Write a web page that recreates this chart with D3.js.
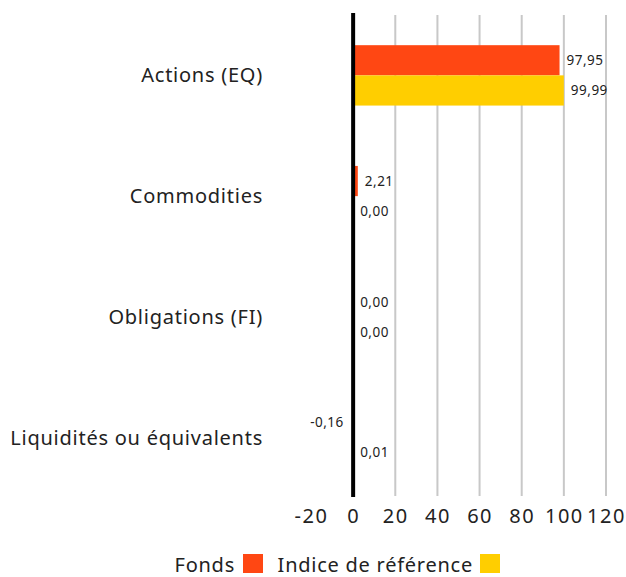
<!DOCTYPE html>
<html><head><meta charset="utf-8">
<script src="https://cdn.jsdelivr.net/npm/d3@7"></script>
<style>body{margin:0;background:#fff;font-family:"Noto Sans",sans-serif;}</style>
</head><body><svg id="c" width="626" height="577"></svg>
<script>
const categories = ["Actions (EQ)", "Commodities", "Obligations (FI)", "Liquidités ou équivalents"];
const seriesNames = ["Fonds", "Indice de référence"];
const fonds = [97.95, 2.21, 0.00, -0.16];
const indice = [99.99, 0.00, 0.00, 0.01];
const xTicks = [-20, 0, 20, 40, 60, 80, 100, 120];
const colors = ["#ff4713", "#ffce00"];

const svg = d3.select("#c");
const font = '"Noto Sans", sans-serif';
const x = d3.scaleLinear().domain([-20, 120]).range([311, 606]);
const y = d3.scaleBand().domain(categories).range([15, 498]).paddingInner(0.5).paddingOuter(0.25);
const sub = d3.scaleBand().domain(seriesNames).range([0, y.bandwidth()]);
const fmt = v => v.toFixed(2).replace(".", ",");

// grid
svg.append("g").selectAll("line").data(xTicks.filter(t => t > 0)).join("line")
  .attr("x1", d => x(d)).attr("x2", d => x(d)).attr("y1", 15).attr("y2", 496)
  .attr("stroke", "#c8c8c8").attr("stroke-width", 2);

const data = categories.map((c, i) => ({c, vals: [fonds[i], indice[i]]}));
const g = svg.append("g");
data.forEach(d => {
  d.vals.forEach((v, j) => {
    const s = seriesNames[j];
    const y0 = y(d.c) + sub(s);
    g.append("rect").attr("x", Math.min(x(0), x(v))).attr("y", y0)
      .attr("width", Math.abs(x(v) - x(0))).attr("height", sub.bandwidth()).attr("fill", colors[j]);
    g.append("text").attr("x", v < 0 ? x(v) - 9 : x(v) + 7).attr("y", y0 + sub.bandwidth() / 2)
      .attr("dy", "0.35em").attr("text-anchor", v < 0 ? "end" : "start")
      .attr("font-family", font).attr("font-size", 13.5).attr("letter-spacing", 0.5)
      .attr("fill", "#222").text(fmt(v));
  });
});

// zero line
svg.append("line").attr("x1", x(0)).attr("x2", x(0)).attr("y1", 13).attr("y2", 497)
  .attr("stroke", "#000").attr("stroke-width", 4);

// category labels
svg.append("g").selectAll("text").data(categories).join("text")
  .attr("x", 263).attr("y", d => y(d) + y.bandwidth() / 2).attr("dy", "0.35em")
  .attr("text-anchor", "end").attr("font-family", font).attr("font-size", 20)
  .attr("letter-spacing", 0.75).attr("fill", "#222").text(d => d);

// x axis
const ax = svg.append("g").attr("transform", "translate(0,498)")
  .call(d3.axisBottom(x).tickValues(xTicks).tickSize(0).tickPadding(11).tickFormat(d => String(d)));
ax.select(".domain").remove();
ax.selectAll("text").attr("font-family", font).attr("font-size", 20)
  .attr("letter-spacing", 1.5).attr("fill", "#222");

// legend
const lg = svg.append("g");
lg.append("text").attr("x", 235).attr("y", 565).attr("dy", "0.35em").attr("text-anchor", "end")
  .attr("font-family", font).attr("font-size", 20).attr("letter-spacing", 0.75)
  .attr("fill", "#222").text(seriesNames[0]);
lg.append("rect").attr("x", 243).attr("y", 554).attr("width", 20).attr("height", 19).attr("fill", colors[0]);
lg.append("text").attr("x", 473).attr("y", 565).attr("dy", "0.35em").attr("text-anchor", "end")
  .attr("font-family", font).attr("font-size", 20).attr("letter-spacing", 0.75)
  .attr("fill", "#222").text(seriesNames[1]);
lg.append("rect").attr("x", 480).attr("y", 554).attr("width", 20).attr("height", 19).attr("fill", colors[1]);
</script></body></html>
